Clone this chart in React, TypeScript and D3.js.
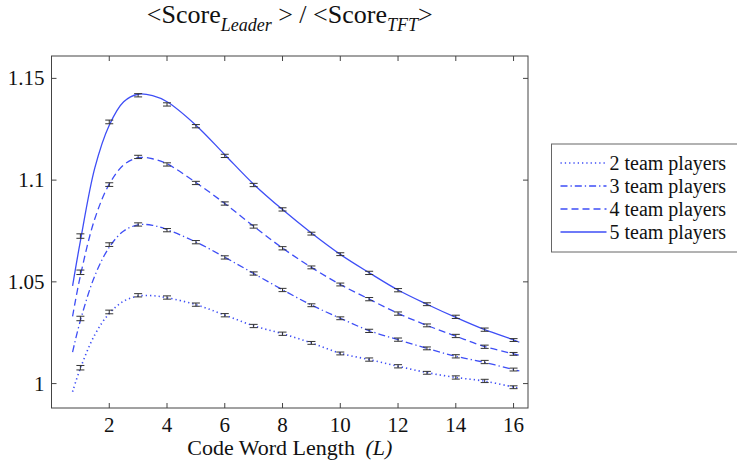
import { useEffect, useRef } from "react";
import * as d3 from "d3";

// error-bar data, one point per code word length
const barL = [1, 2, 3, 4, 5, 6, 7, 8, 9, 10, 11, 12, 13, 14, 15, 16];
const bars5 = [1.0725, 1.1286, 1.1417, 1.1372, 1.1265, 1.1119, 1.0976, 1.0856, 1.0737, 1.0636, 1.0544, 1.0459, 1.039, 1.0328, 1.0265, 1.0214];
const bars4 = [1.0547, 1.0978, 1.1114, 1.1077, 1.0986, 1.0885, 1.0772, 1.0665, 1.0571, 1.0487, 1.0415, 1.0344, 1.0286, 1.0234, 1.0181, 1.0146];
const bars3 = [1.032, 1.0683, 1.0782, 1.0754, 1.0695, 1.062, 1.0541, 1.046, 1.0385, 1.0321, 1.0259, 1.0216, 1.0173, 1.0134, 1.0106, 1.0069];
const bars2 = [1.0078, 1.0352, 1.0434, 1.0423, 1.0388, 1.0336, 1.0283, 1.0245, 1.02, 1.0148, 1.0118, 1.0085, 1.0053, 1.003, 1.0013, 0.9982];
const barErr = [0.0011, 0.0009, 0.0008, 0.0008, 0.0008, 0.0008, 0.0008, 0.0008, 0.0007, 0.0007, 0.0008, 0.0008, 0.0007, 0.0008, 0.0008, 0.0007];

// smooth theory curves
const curveL = [0.73, 1, 1.5, 2, 2.5, 3, 3.5, 4, 5, 6, 7, 8, 9, 10, 11, 12, 13, 14, 15, 16, 16.2];
const curve5 = [1.048, 1.07, 1.106, 1.127, 1.1385, 1.1422, 1.1415, 1.1385, 1.127, 1.1125, 1.098, 1.0855, 1.074, 1.0635, 1.0545, 1.046, 1.039, 1.0325, 1.0265, 1.0215, 1.0203];
const curve4 = [1.033, 1.053, 1.081, 1.098, 1.1075, 1.111, 1.1105, 1.108, 1.0988, 1.0885, 1.0773, 1.0666, 1.0571, 1.0487, 1.0415, 1.0345, 1.0286, 1.0233, 1.0182, 1.0146, 1.0139];
const curve3 = [1.0155, 1.031, 1.053, 1.067, 1.075, 1.078, 1.0778, 1.0757, 1.0696, 1.0621, 1.0541, 1.0461, 1.0386, 1.0321, 1.026, 1.0216, 1.0173, 1.0134, 1.0104, 1.0069, 1.0062];
const curve2 = [0.996, 1.0075, 1.024, 1.0345, 1.0405, 1.043, 1.0432, 1.0422, 1.0388, 1.0337, 1.0284, 1.0245, 1.02, 1.0149, 1.0118, 1.0085, 1.0054, 1.003, 1.0012, 0.9983, 0.9978];

const labels = ["2 team players", "3 team players", "4 team players", "5 team players"];
const xTicks = [2, 4, 6, 8, 10, 12, 14, 16];
const yTicks = [1, 1.05, 1.1, 1.15];

const BLUE = "#3e4ef6";
const dashes = ["1.3,3", "7,3,1.3,3", "7,4", "none"];
const FONT = "Liberation Serif, Times New Roman, DejaVu Serif, serif";

export default function App() {
  const svgRef = useRef<SVGSVGElement>(null);

  useEffect(() => {
    if (!svgRef.current) return;
    const width = 737;
    const height = 460;
    const margin = { top: 56, right: 209, bottom: 52, left: 51.5 };
    const innerW = width - margin.left - margin.right;
    const innerH = height - margin.top - margin.bottom;

    const svg = d3.select(svgRef.current).style("font-family", FONT);
    svg.selectAll("*").remove();

    const x = d3.scaleLinear().domain([0, 16.5]).range([0, innerW]);
    const y = d3.scaleLinear().domain([0.988, 1.161]).range([innerH, 0]);

    const g = svg.append("g").attr("transform", `translate(${margin.left},${margin.top})`);

    // Theory curves
    const curves = [curve2, curve3, curve4, curve5];
    const line = d3
      .line<number>()
      .x((_, i) => x(curveL[i]))
      .y((d) => y(d))
      .curve(d3.curveCatmullRom);

    curves.forEach((c, i) => {
      g.append("path")
        .datum(c)
        .attr("fill", "none")
        .attr("stroke", BLUE)
        .attr("stroke-width", i === 0 ? 1.6 : 1.3)
        .attr("stroke-dasharray", dashes[i])
        .attr("d", line);
    });

    // Error bars
    const allBars = [bars2, bars3, bars4, bars5];
    allBars.forEach((b) => {
      b.forEach((v, i) => {
        const cx = x(barL[i]);
        const y0 = y(v - barErr[i]);
        const y1 = y(v + barErr[i]);
        const eb = g.append("g").attr("stroke", "#333").attr("stroke-width", 1);
        eb.append("line").attr("x1", cx).attr("x2", cx).attr("y1", y0).attr("y2", y1);
        eb.append("line").attr("x1", cx - 4).attr("x2", cx + 4).attr("y1", y0).attr("y2", y0);
        eb.append("line").attr("x1", cx - 4).attr("x2", cx + 4).attr("y1", y1).attr("y2", y1);
      });
    });

    // Box + inward ticks
    g.append("rect")
      .attr("width", innerW)
      .attr("height", innerH)
      .attr("fill", "none")
      .attr("stroke", "#444")
      .attr("stroke-width", 1);

    xTicks.forEach((t) => {
      g.append("line").attr("x1", x(t)).attr("x2", x(t)).attr("y1", innerH).attr("y2", innerH - 5).attr("stroke", "#444");
      g.append("line").attr("x1", x(t)).attr("x2", x(t)).attr("y1", 0).attr("y2", 5).attr("stroke", "#444");
      g.append("text")
        .attr("x", x(t))
        .attr("y", innerH + 24)
        .attr("text-anchor", "middle")
        .style("font-size", "21px")
        .attr("fill", "#111")
        .text(String(t));
    });

    yTicks.forEach((t) => {
      g.append("line").attr("x1", 0).attr("x2", 5).attr("y1", y(t)).attr("y2", y(t)).attr("stroke", "#444");
      g.append("line").attr("x1", innerW).attr("x2", innerW - 5).attr("y1", y(t)).attr("y2", y(t)).attr("stroke", "#444");
      g.append("text")
        .attr("x", -7)
        .attr("y", y(t) + 7)
        .attr("text-anchor", "end")
        .style("font-size", "21px")
        .attr("fill", "#111")
        .text(d3.format("")(t));
    });

    // X axis label
    const xl = svg
      .append("text")
      .attr("x", margin.left + innerW / 2)
      .attr("y", 455)
      .attr("text-anchor", "middle")
      .style("font-size", "22px")
      .attr("fill", "#111");
    xl.append("tspan").text("Code Word Length ");
    xl.append("tspan").style("font-style", "italic").attr("dx", 5).text("(L)");

    // Title
    const title = svg
      .append("text")
      .attr("x", margin.left + innerW / 2)
      .attr("y", 23)
      .attr("text-anchor", "middle")
      .style("font-size", "26px")
      .attr("fill", "#111");
    title.append("tspan").text("<Score");
    title.append("tspan").style("font-style", "italic").style("font-size", "18px").attr("dy", 8).text("Leader");
    title.append("tspan").attr("dy", -8).text(" > / <Score");
    title.append("tspan").style("font-style", "italic").style("font-size", "18px").attr("dy", 8).text("TFT");
    title.append("tspan").attr("dy", -8).text(">");

    // Legend
    const lg = svg.append("g").attr("transform", "translate(551.5,144)");
    lg.append("rect")
      .attr("width", 200)
      .attr("height", 108)
      .attr("fill", "#fff")
      .attr("stroke", "#666")
      .attr("stroke-width", 1);
    labels.forEach((lab, i) => {
      const ly = 19 + i * 23;
      lg.append("line")
        .attr("x1", 9)
        .attr("x2", 55)
        .attr("y1", ly)
        .attr("y2", ly)
        .attr("stroke", BLUE)
        .attr("stroke-width", i === 0 ? 1.6 : 1.3)
        .attr("stroke-dasharray", dashes[i]);
      lg.append("text")
        .attr("x", 58)
        .attr("y", ly + 7)
        .style("font-size", "20px")
        .attr("fill", "#111")
        .text(lab);
    });
  }, []);

  return (
    <div style={{ position: "fixed", left: 0, top: 0, background: "#fff" }}>
      <svg ref={svgRef} width={737} height={460} style={{ display: "block" }} />
    </div>
  );
}
